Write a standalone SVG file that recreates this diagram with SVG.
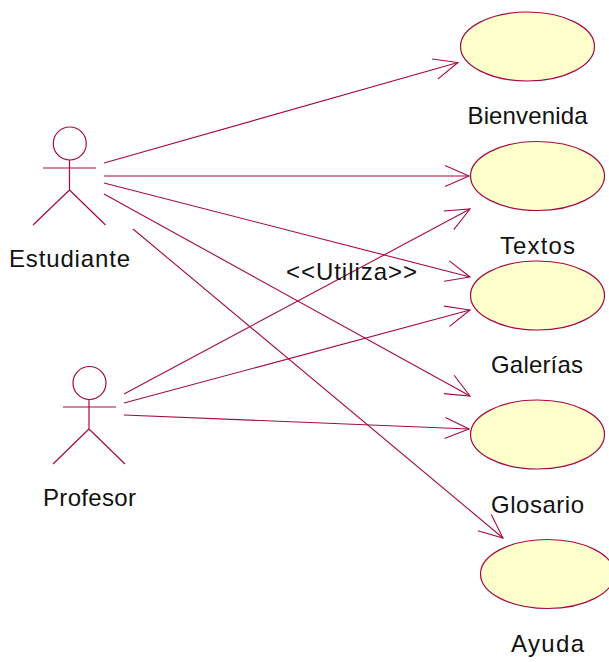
<svg xmlns="http://www.w3.org/2000/svg" width="609" height="662" viewBox="0 0 609 662">
<style>
.l{fill:none;stroke:#a50a46;stroke-width:1.2}
.u{fill:#ffffcb;stroke:#a50a46;stroke-width:1.2}
.c{fill:none;stroke:#a50a46;stroke-width:1.1;marker-end:url(#a)}
text{font-family:"Liberation Sans",Arial,sans-serif;font-size:24px;fill:#111;text-anchor:middle}
</style>
<defs>
<marker id="a" markerUnits="userSpaceOnUse" markerWidth="30" markerHeight="26" viewBox="-27 -13 30 26" refX="0" refY="0" orient="auto">
<path d="M-24,-10.500L0,0L-24,10.500" fill="none" stroke="#a50a46" stroke-width="1.100"/>
</marker>
</defs>
<rect width="609" height="662" fill="#fff"/>
<g id="connectors">
<line class="c" x1="104" y1="163" x2="458" y2="62.500"/>
<line class="c" x1="104" y1="176" x2="469" y2="176"/>
<line class="c" x1="104" y1="183" x2="470" y2="277"/>
<line class="c" x1="104" y1="194" x2="470" y2="396"/>
<line class="c" x1="133" y1="229" x2="503" y2="538"/>
<line class="c" x1="124" y1="394" x2="470" y2="209"/>
<line class="c" x1="124" y1="403" x2="470" y2="310"/>
<line class="c" x1="124" y1="415" x2="469" y2="429"/>
</g>
<g id="estudiante">
<circle class="l" cx="69.800" cy="143.500" r="16.500"/>
<path class="l" d="M43,168H96M69.500,160V190M69.500,190L33,225M69.500,190L105.500,225"/>
<text x="69.500" y="267" textLength="121" lengthAdjust="spacing">Estudiante</text>
</g>
<g id="profesor">
<circle class="l" cx="89.500" cy="383" r="16.500"/>
<path class="l" d="M63,407H116M89,399V429M89,429L53,464M89,429L125,464"/>
<text x="89.500" y="506" textLength="93" lengthAdjust="spacing">Profesor</text>
</g>
<g id="bienvenida">
<ellipse class="u" cx="527.500" cy="46.500" rx="67" ry="34.500"/>
<text x="527.500" y="124" textLength="120" lengthAdjust="spacing">Bienvenida</text>
</g>
<g id="textos">
<ellipse class="u" cx="537.500" cy="176" rx="67" ry="34.500"/>
<text x="537.500" y="254" textLength="75" lengthAdjust="spacing">Textos</text>
</g>
<g id="galerias">
<ellipse class="u" cx="537.500" cy="295.500" rx="67" ry="34.500"/>
<text x="537" y="373" textLength="92" lengthAdjust="spacing">Galerías</text>
</g>
<g id="glosario">
<ellipse class="u" cx="537.500" cy="434.500" rx="67" ry="34.500"/>
<text x="537.500" y="513" textLength="93" lengthAdjust="spacing">Glosario</text>
</g>
<g id="ayuda">
<ellipse class="u" cx="547.500" cy="574" rx="67" ry="34.500"/>
<text x="547.500" y="652" textLength="73" lengthAdjust="spacing">Ayuda</text>
</g>
<text id="utiliza" x="351.500" y="280" textLength="131" lengthAdjust="spacing">&lt;&lt;Utiliza&gt;&gt;</text>
</svg>
